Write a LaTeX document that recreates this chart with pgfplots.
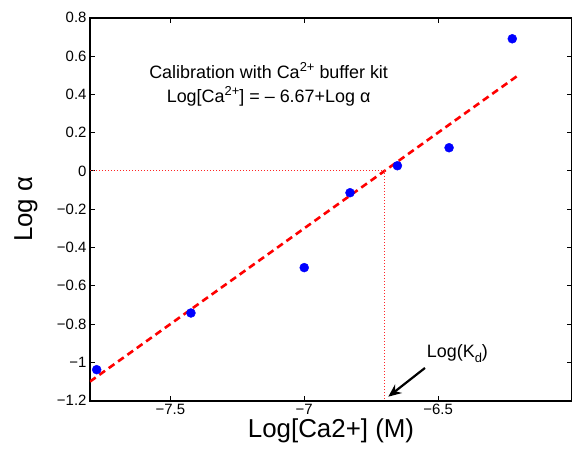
\documentclass[border=0pt]{standalone}
\usepackage{fontspec}
\setmainfont{Liberation Sans}
\usepackage{pgfplots}
\pgfplotsset{compat=1.18}
\usetikzlibrary{calc,arrows.meta}

\newcommand{\sups}[1]{\raisebox{0.75ex}{\fontsize{13}{15}\selectfont #1}}
\newcommand{\subs}[1]{\raisebox{-0.55ex}{\fontsize{13}{15}\selectfont #1}}

\begin{document}
\begin{tikzpicture}
  \begin{axis}[
    scale only axis,
    width=482bp, height=383bp,
    xmin=-7.8, xmax=-6.0,
    ymin=-1.2, ymax=0.8,
    xtick={-7.5,-7,-6.5},
    xticklabels={−7.5,−7,−6.5},
    ytick={-1.2,-1,-0.8,-0.6,-0.4,-0.2,0,0.2,0.4,0.6,0.8},
    yticklabels={−1.2,−1,−0.8,−0.6,−0.4,−0.2,0,0.2,0.4,0.6,0.8},
    tick align=inside,
    major tick length=5bp,
    tick style={black, line width=0.8bp},
    axis line style={line width=1.8bp},
    ticklabel style={font=\fontsize{15}{18}\selectfont},
    xlabel={Log[Ca2+] (M)},
    ylabel={Log α},
    label style={font=\fontsize{26}{30}\selectfont},
    xlabel style={at={(axis description cs:0.5,-0.0948)}, anchor=base},
    ylabel style={at={(axis description cs:-0.1203,0.5)}, anchor=base},
    clip=true,
  ]
    % fitted line
    \addplot[red, line width=2.6bp, dash pattern=on 7bp off 4.5bp] coordinates {
      (-7.8,-1.10) (-6.2,0.50)
    };
    % guide lines to Kd
    \addplot[red!85, line width=0.8bp, dash pattern=on 0.8bp off 2.2bp] coordinates {
      (-7.8,0) (-6.70,0) (-6.70,-1.2)
    };
    % measured points
    \addplot[only marks, mark=*, mark size=4.5bp, blue, mark options={fill=blue, draw=blue}] coordinates {
      (-7.775,-1.038)
      (-7.423,-0.742)
      (-7.000,-0.505)
      (-6.829,-0.114)
      (-6.652,0.027)
      (-6.459,0.121)
      (-6.223,0.690)
    };
    \node[font=\fontsize{18}{24}\selectfont, align=center] at (axis cs:-7.133,0.45)
      {Calibration with Ca\sups{2+} buffer kit\\Log[Ca\sups{2+}] = \textendash{} 6.67+Log α};
    \draw[-{Stealth[length=13bp,width=11bp]}, line width=2.2bp] (axis cs:-6.549,-1.029) -- (axis cs:-6.686,-1.179);
    \node[font=\fontsize{18}{22}\selectfont, anchor=base west] at (axis cs:-6.555,-0.975) {Log(K\subs{d})};
  \end{axis}
  \pgfresetboundingbox
  \path[use as bounding box] ($(current axis.south west)+(-90bp,-53.3bp)$) rectangle ($(current axis.north east)+(0bp,17.7bp)$);
\end{tikzpicture}
\end{document}
